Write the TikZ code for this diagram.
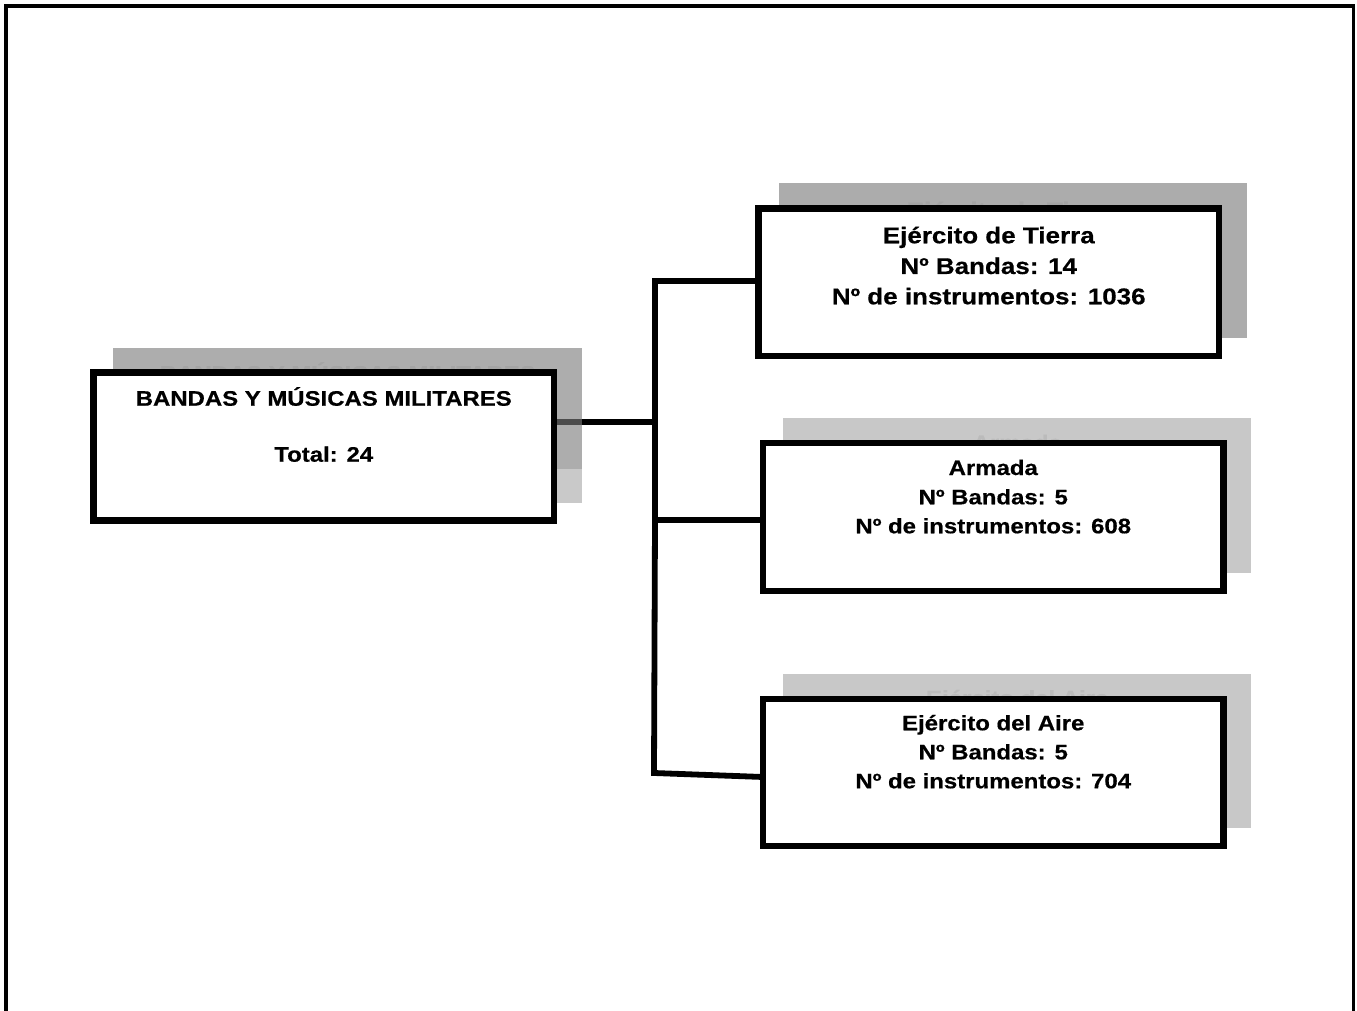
\documentclass[tikz,border=0pt]{standalone}
\usepackage{fontspec}
\setmainfont{Liberation Sans}[FakeStretch=1.14, BoldFeatures={FakeBold=0.5}]
\usetikzlibrary{calc}
\pgfdeclarelayer{connl}
\pgfdeclarelayer{shadl}
\pgfsetlayers{connl,shadl,main}
\definecolor{shdark}{gray}{0.482}
\definecolor{shmid}{HTML}{C9C9C9}
\definecolor{shtierra}{HTML}{ACACAC}
\definecolor{shlight}{HTML}{C8C8C8}
\definecolor{ghostA}{HTML}{A4A4A4}
\definecolor{ghostB}{HTML}{BBBBBB}
\tikzset{
  box/.style={draw, fill=white, line width=3.3pt, inner sep=0pt, outer sep=0pt, minimum width=230.25pt},
  conn/.style={line width=2.9pt, line join=miter},
  txs/.style={font=\fontsize{10.5pt}{12pt}\selectfont\bfseries, anchor=base, inner sep=0pt},
  txl/.style={font=\fontsize{11.4pt}{13pt}\selectfont\bfseries, anchor=base, inner sep=0pt},
}
\begin{document}
\begin{tikzpicture}[x=0.5pt,y=-0.5pt]
\useasboundingbox (0,0) rectangle (1357,1011);
% outer frame
\draw[line width=1.6pt] (6,1011) -- (6,6) -- (1353.5,6) -- (1353.5,1011);

% boxes
\node[box, minimum height=74pt]   (main)   at (323.75,446.5) {};
\node[box, minimum height=73.75pt] (tierra) at (988.75,282.25) {};
\node[box, minimum height=74pt]   (armada) at (993.25,517) {};
\node[box, minimum height=73.5pt] (aire)   at (993.25,772.5) {};

% texts
\node[txs] (mainA) at (323.75,405.7) {BANDAS Y MÚSICAS MILITARES};
\node[txs] (mainB) at (323.75,461.7) {Total: 24};
\node[txl] (tA) at (988.75,243.3) {Ejército de Tierra};
\node[txl] (tB) at (988.75,274) {Nº Bandas: 14};
\node[txl] (tC) at (988.75,304.3) {Nº de instrumentos: 1036};
\node[txs] (aA) at (993.25,475) {Armada};
\node[txs] (aB) at (993.25,504.3) {Nº Bandas: 5};
\node[txs] (aC) at (993.25,533.3) {Nº de instrumentos: 608};
\node[txs] (eA) at (993.25,730.3) {Ejército del Aire};
\node[txs] (eB) at (993.25,759.3) {Nº Bandas: 5};
\node[txs] (eC) at (993.25,788.3) {Nº de instrumentos: 704};

% connectors
\coordinate (jt) at (655,281);
\coordinate (jm) at (655,422);
\coordinate (ja) at (655,520);
\coordinate (jb) at (654,773);
\coordinate (ae) at (763,777);
\begin{pgfonlayer}{connl}
\draw[conn] (main.east |- jm) -- (jm);
\draw[conn] (tierra.west |- jt) -- (jt) -- (ja) -- (jb) -- (aire.west |- ae);
\draw[conn] (ja) -- (armada.west |- ja);
\end{pgfonlayer}

% shadows
\begin{pgfonlayer}{shadl}
\fill[shdark, fill opacity=0.624] (113,348) rectangle (582,469);
\fill[shmid] (113,469) rectangle (582,503);
\fill[shtierra] (779,183) rectangle (1247,338);
\fill[shlight] (783,418) rectangle (1251,573);
\fill[shlight] (783,674) rectangle (1251,828);
\node[txs, text=ghostA] (gmain) at (347.75,380.7) {BANDAS Y MÚSICAS MILITARES};
\node[txl, text=ghostA] (gtierra) at (1012.75,218.3) {Ejército de Tierra};
\node[txs, text=ghostB] (garmada) at (1017.25,450) {Armada};
\node[txs, text=ghostB] (gaire) at (1017.25,705.3) {Ejército del Aire};
\end{pgfonlayer}
\end{tikzpicture}
\end{document}
